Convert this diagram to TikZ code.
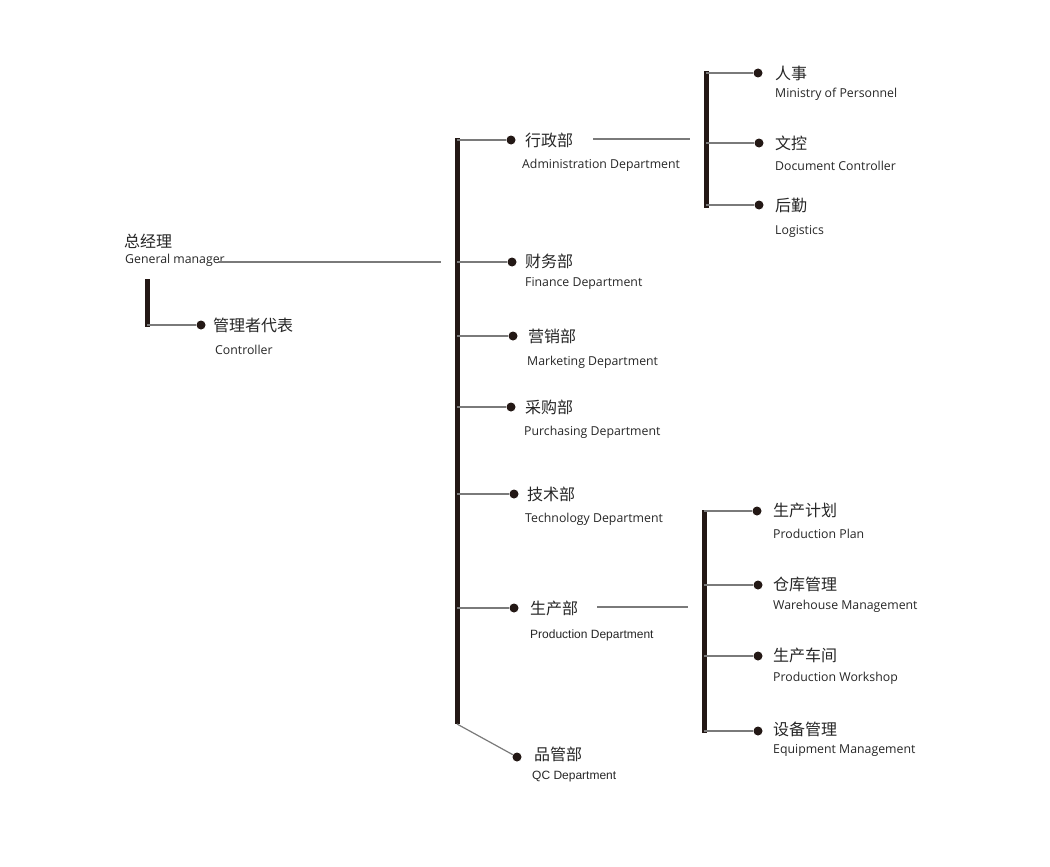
\documentclass[tikz,border=0pt]{standalone}
\usepackage{fontspec}
\setmainfont{Open Sans}
\newfontfamily\cjk{Noto Sans CJK SC}
\newfontfamily\arl{Liberation Sans}
\usetikzlibrary{positioning}
\definecolor{barcol}{HTML}{231815}
\definecolor{twigcol}{HTML}{7A7A7A}
\definecolor{txtcol}{HTML}{262626}

\tikzset{
  bar/.style={line width=5pt,draw=barcol},
  twig/.style={line width=1.5pt,draw=twigcol},
  dot/.style={circle,fill=barcol,inner sep=0pt,minimum size=9pt},
  zh/.style={anchor=west,inner sep=0pt,text=txtcol,font=\cjk\fontsize{16}{16}\selectfont},
  en/.style={anchor=west,inner sep=0pt,yshift=-1.5pt,text=txtcol,font=\fontsize{12.3}{12.3}\selectfont},
  enb/.style={en,font=\arl\fontsize{12}{12}\selectfont}
}

\begin{document}
\begin{tikzpicture}[line cap=butt,line join=round,x=1pt,y=-1pt]
\useasboundingbox (0,0) rectangle (1050,867);
%general manager
\node[zh] (gm) at (124,241) {总经理};
\node[en] (gmen) at (125,259) {General manager};
\coordinate (gmL) at (218,262);
\coordinate (gmR) at (441,262);
\draw[twig] (gmL) -- (gmR);
\coordinate (ctop) at (147,279);
\coordinate (cbot) at (147,327);
\draw[bar] (ctop) -- (cbot);
\node[dot] (cd) at (201,325) {};
\node[zh] (cz) at (213,325) {管理者代表};
\node[en] (ce) at (215,348) {Controller};
\draw[twig] (cd) -- (cd -| cbot);
%main bar
\coordinate (mtop) at (457,138);
\coordinate (mbot) at (457,724);
\draw[bar] (mtop) -- (mbot);
\node[dot] (d1) at (511,140) {};
\node[zh] (z1) at (525,140) {行政部};
\node[en] (e1) at (522,164) {Administration Department};
\node[dot] (d2) at (512,262) {};
\node[zh] (z2) at (525,261) {财务部};
\node[en] (e2) at (525,282) {Finance Department};
\node[dot] (d3) at (513,336) {};
\node[zh] (z3) at (528,336) {营销部};
\node[en] (e3) at (527,361) {Marketing Department};
\node[dot] (d4) at (511,407) {};
\node[zh] (z4) at (525,407) {采购部};
\node[en] (e4) at (524,431) {Purchasing Department};
\node[dot] (d5) at (514,494) {};
\node[zh] (z5) at (527,494) {技术部};
\node[en] (e5) at (525,518) {Technology Department};
\node[dot] (d6) at (514,608) {};
\node[zh] (z6) at (530,608) {生产部};
\node[enb] (e6) at (530,634) {Production Department};
\node[dot] (d7) at (517,757) {};
\node[zh] (z7) at (534,754) {品管部};
\node[enb] (e7) at (532,775) {QC Department};
\foreach \i in {1,...,6}
  \draw[twig] (mtop |- d\i) -- (d\i);
\draw[line width=1.2pt,draw=twigcol] (mbot) -- (d7);
%administration
\coordinate (aL) at (593,139);
\coordinate (aR) at (690,139);
\draw[twig] (aL) -- (aR);
\coordinate (atop) at (706,71);
\coordinate (abot) at (706,208);
\draw[bar] (atop) -- (abot);
\node[dot] (a1) at (758,73) {};
\node[zh] (az1) at (775,73) {人事};
\node[en] (ae1) at (775,93) {Ministry of Personnel};
\node[dot] (a2) at (759,143) {};
\node[zh] (az2) at (775,143) {文控};
\node[en] (ae2) at (775,164) {Document Controller};
\node[dot] (a3) at (759,205) {};
\node[zh] (az3) at (775,205) {后勤};
\node[en] (ae3) at (775,230) {Logistics};
\foreach \i in {1,2,3}
  \draw[twig] (atop |- a\i) -- (a\i);
%production
\coordinate (pL) at (597,607);
\coordinate (pR) at (688,607);
\draw[twig] (pL) -- (pR);
\coordinate (ptop) at (704,510);
\coordinate (pbot) at (704,733);
\draw[bar] (ptop) -- (pbot);
\node[dot] (p1) at (757,511) {};
\node[zh] (pz1) at (773,510) {生产计划};
\node[en] (pe1) at (773,532) {Production Plan};
\node[dot] (p2) at (758,585) {};
\node[zh] (pz2) at (773,584) {仓库管理};
\node[en] (pe2) at (773,605) {Warehouse Management};
\node[dot] (p3) at (758,656) {};
\node[zh] (pz3) at (773,655) {生产车间};
\node[en] (pe3) at (773,677) {Production Workshop};
\node[dot] (p4) at (758,731) {};
\node[zh] (pz4) at (773,729) {设备管理};
\node[en] (pe4) at (773,749) {Equipment Management};
\foreach \i in {1,...,4}
  \draw[twig] (ptop |- p\i) -- (p\i);
\end{tikzpicture}
\end{document}
